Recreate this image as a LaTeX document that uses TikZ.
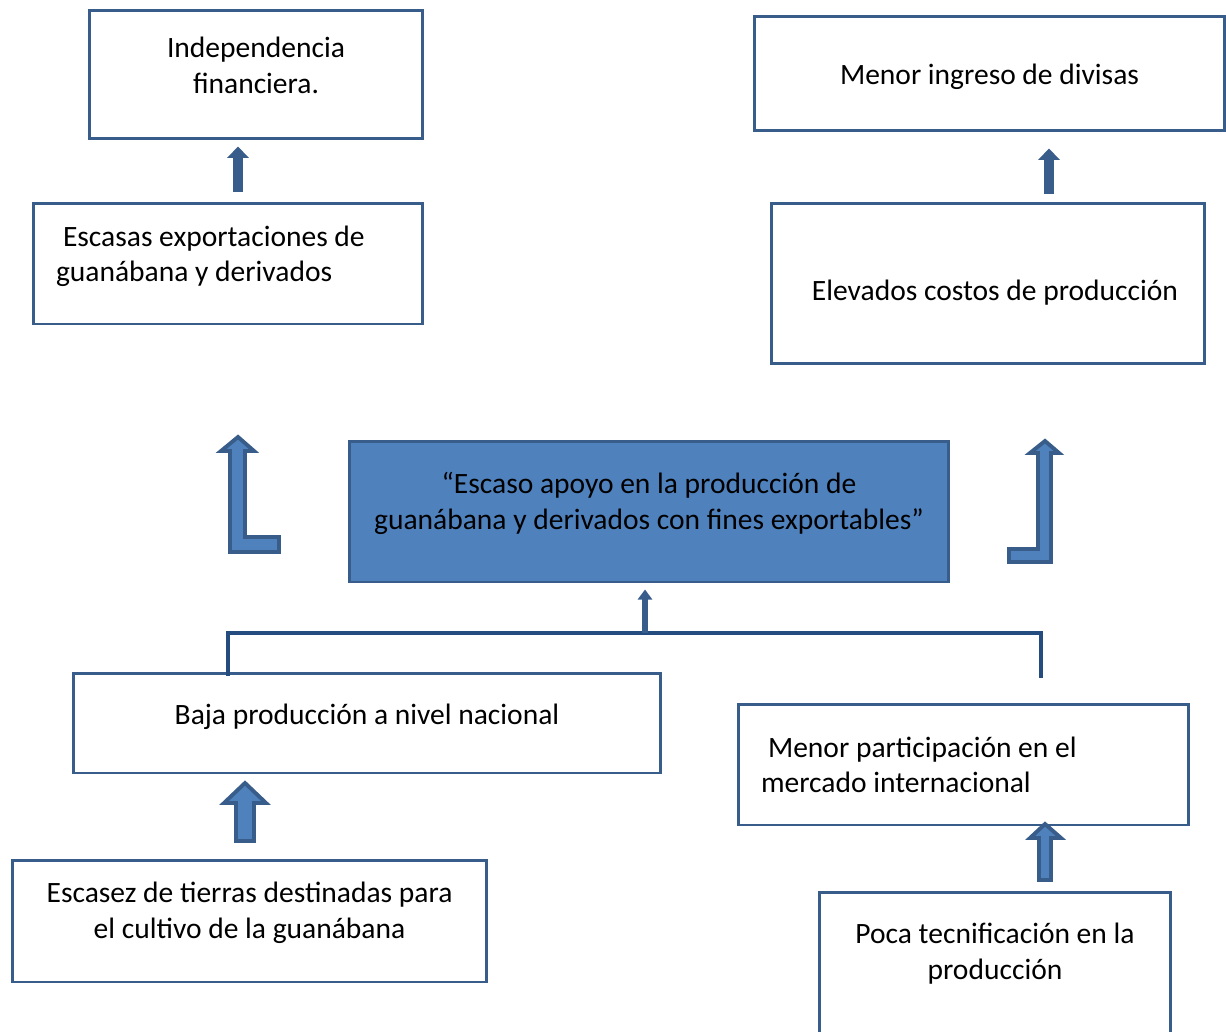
\documentclass[tikz,border=0pt]{standalone}
\usepackage{fontspec}
\setmainfont{Carlito}
\usetikzlibrary{arrows.meta,positioning}
\definecolor{edgeblue}{RGB}{56,93,138}
\definecolor{fillblue}{RGB}{79,129,189}
\definecolor{barblue}{RGB}{36,76,126}

\begin{document}
\begin{tikzpicture}[
  x=0.02cm, y=-0.02cm,
  box/.style={rectangle, draw=edgeblue, line width=1.7pt, fill=white, inner sep=0pt, align=center, text depth=0.2cm, font=\fontsize{16.8pt}{20.4pt}\selectfont},
  problem/.style={box, fill=fillblue},
  leftbox/.style={box, align=flush left, inner xsep=0.46cm, text height=0.2cm},
  thinarrow/.style={draw=edgeblue, line width=5.7pt, -{Triangle[width=12pt,length=6.5pt]}},
  smallarrow/.style={draw=edgeblue, line width=3.4pt, -{Triangle[width=8pt,length=5.7pt]}},
  blockarrow/.style={draw=edgeblue, fill=fillblue, line width=2.2pt, line join=miter},
  bracket/.style={draw=barblue, line width=2.8pt, line join=miter}
]
\useasboundingbox (0,0) rectangle (1226,1031);

% Effects
\node (indep) [box, text height=0.96cm, minimum width=6.68cm, minimum height=2.58cm] at (256,74.5) {Independencia\\ financiera.};
\node (divisas) [box, text height=0.64cm, minimum width=9.42cm, minimum height=2.3cm] at (989.5,73.5) {Menor ingreso de divisas};
\node (escasas) [leftbox, text depth=0.9cm, text width=6.88cm, minimum height=2.42cm] at (228,263.5) {\hspace*{0.14cm}Escasas exportaciones de\\ guanábana y derivados};
\node (costos) [box, text height=0.86cm, minimum width=8.68cm, minimum height=3.22cm] at (988,283.5) {\hspace*{0.28cm}Elevados costos de producción};

% Central problem
\node (problema) [problem, text height=0.92cm, minimum width=12cm, minimum height=2.82cm] at (649,511.5) {“Escaso apoyo en la producción de\\ guanábana y derivados con fines exportables”};

% Causes
\node (baja) [box, text height=0.26cm, minimum width=11.76cm, minimum height=2cm] at (367,723) {Baja producción a nivel nacional};
\node (participacion) [leftbox, text depth=0.5cm, text width=8.1cm, minimum height=2.42cm] at (963.5,764.5) {\hspace*{0.14cm}Menor participación en el\\ mercado internacional};
\node (escasez) [box, text height=0.88cm, minimum width=9.5cm, minimum height=2.44cm] at (249.5,921) {Escasez de tierras destinadas para\\ el cultivo de la guanábana};
\node (poca) [box, text height=0.62cm, minimum width=7.04cm, minimum height=3.06cm] at (995,968.5) {Poca tecnificación en la\\ producción};

% Connections
\draw [thinarrow, shorten <=0.2cm, shorten >=0.12cm] ([xshift=0.2cm]escasas.north) -- ([xshift=0.2cm]escasas.north |- indep.south);
\draw [thinarrow, shorten <=0.16cm, shorten >=0.32cm] ([xshift=1.22cm]costos.north) -- ([xshift=1.22cm]costos.north |- divisas.south);

\coordinate (bl) at (228,676);
\coordinate (br) at (1041,678);
\coordinate (junction) at (645,633);
\draw [bracket] (bl) |- (br |- junction) -- (br);
\draw [smallarrow, shorten >=0.12cm] (junction) -- (junction |- problema.south);

% Block arrows
\draw [blockarrow] (245,783) -- (266,803) -- (254,803) -- (254,841) -- (236,841) -- (236,803) -- (224,803) -- cycle;
\draw [blockarrow] (1045,824) -- (1061,838) -- (1051,838) -- (1051,880) -- (1039,880) -- (1039,838) -- (1030,838) -- cycle;
\draw [blockarrow] (238,437) -- (254,451) -- (245,451) -- (245,537) -- (279,537) -- (279,552) -- (230,552) -- (230,451) -- (221,451) -- cycle;
\draw [blockarrow] (1045,441) -- (1059,453) -- (1051,453) -- (1051,562) -- (1009,562) -- (1009,549) -- (1038,549) -- (1038,453) -- (1030,453) -- cycle;

\end{tikzpicture}
\end{document}
